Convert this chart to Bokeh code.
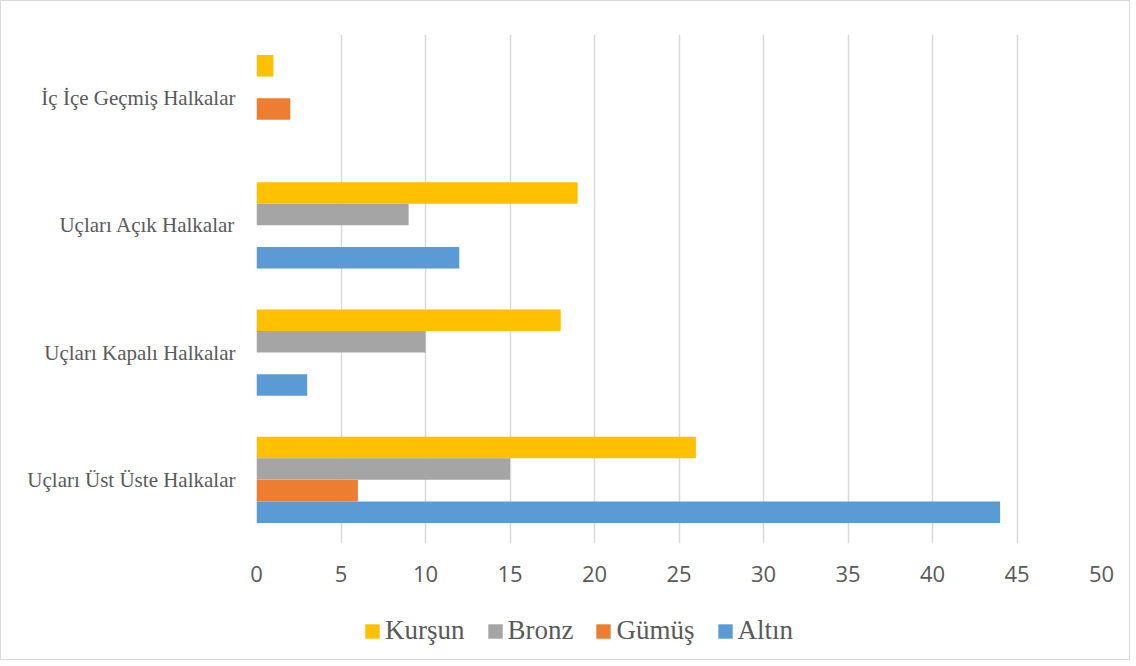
from bokeh.plotting import figure
from bokeh.layouts import column
from bokeh.models import FactorRange, Range1d, FixedTicker, Legend, LegendItem, ColumnDataSource
from bokeh.transform import dodge
from bokeh.embed import file_html
from bokeh.resources import INLINE

categories = ["Uçları Üst Üste Halkalar", "Uçları Kapalı Halkalar", "Uçları Açık Halkalar", "İç İçe Geçmiş Halkalar"]
series = ["Kurşun", "Bronz", "Gümüş", "Altın"]
kursun = [26, 18, 19, 1]
bronz = [15, 10, 9, 0]
gumus = [6, 0, 0, 2]
altin = [44, 3, 12, 0]
x_ticks = [0, 5, 10, 15, 20, 25, 30, 35, 40, 45, 50]

colors = ["#FFC000", "#A5A5A5", "#ED7D31", "#5B9BD5"]
offsets = [0.255, 0.085, -0.085, -0.255]

source = ColumnDataSource(dict(cat=categories, Kursun=kursun, Bronz=bronz, Gumus=gumus, Altin=altin))
keys = ["Kursun", "Bronz", "Gumus", "Altin"]

W, H1, H2 = 1128, 600, 58
p = figure(width=W, height=H1, y_range=FactorRange(*categories), x_range=Range1d(0, 50),
           output_backend="svg", toolbar_location=None,
           min_border_left=255, min_border_right=28, min_border_top=33, min_border_bottom=58)
p.outline_line_color = None

for key, col, off in zip(keys, colors, offsets):
    p.hbar(y=dodge("cat", off, range=p.y_range), right=key, left=0, height=0.169,
           source=source, fill_color=col, line_color=None)

p.xaxis.ticker = FixedTicker(ticks=x_ticks)
p.xaxis.axis_line_color = None
p.xaxis.major_tick_line_color = None
p.xaxis.minor_tick_line_color = None
p.xaxis.major_tick_out = 0
p.xaxis.major_label_text_font = "Open Sans"
p.xaxis.major_label_text_font_size = "22px"
p.xaxis.major_label_text_color = "#595959"
p.xaxis.major_label_standoff = 22

p.yaxis.axis_line_color = None
p.yaxis.major_tick_line_color = None
p.yaxis.minor_tick_line_color = None
p.yaxis.major_tick_out = 0
p.yaxis.major_label_text_font = "Liberation Serif"
p.yaxis.major_label_text_font_size = "21px"
p.yaxis.major_label_text_color = "#595959"
p.yaxis.major_label_standoff = 21

p.ygrid.grid_line_color = None
p.xgrid.grid_line_color = "#D9D9D9"
p.xgrid.grid_line_width = 1.5

# legend strip (swatches only: zero-length bars placed outside the visible range)
p2 = figure(width=W, height=H2, x_range=Range1d(0, 1), y_range=Range1d(0, 1),
            output_backend="svg", toolbar_location=None,
            min_border_left=0, min_border_right=0, min_border_top=0, min_border_bottom=0)
p2.axis.visible = False
p2.grid.grid_line_color = None
p2.outline_line_color = None
items = []
for s, col in zip(series, colors):
    r = p2.hbar(y=[-5], right=[0], left=0, height=0.1, fill_color=col, line_color=None)
    items.append(LegendItem(label=s, renderers=[r]))

legend = Legend(items=items, orientation="horizontal", location=(107, 13), border_line_color=None,
                background_fill_alpha=0, label_text_font="Liberation Serif",
                label_text_font_size="27px", label_text_color="#595959",
                glyph_width=18, glyph_height=18, label_standoff=4, spacing=21,
                padding=10, margin=0)
p2.add_layout(legend, "center")

layout = column(p, p2, spacing=0, styles={"border": "1px solid #D9D9D9"})

open("out.html", "w").write(file_html(layout, INLINE))
